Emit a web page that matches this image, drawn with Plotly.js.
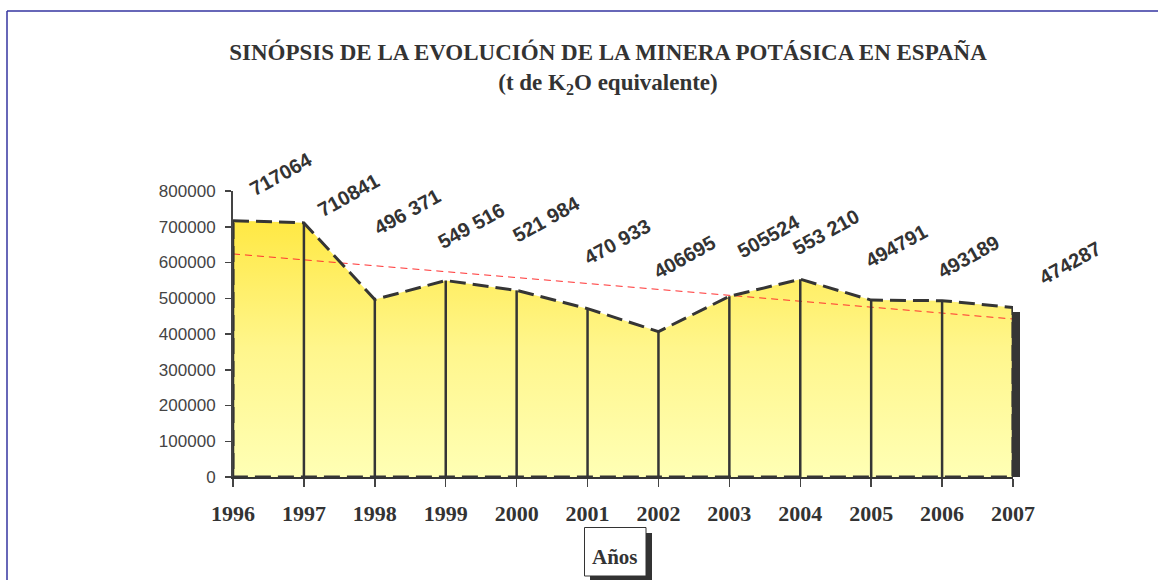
<!DOCTYPE html>
<html>
<head>
<meta charset="utf-8">
<script src="https://cdn.plot.ly/plotly-3.0.1.min.js"></script>
<style>
  html, body { margin: 0; padding: 0; background: #fff; }
  #chart { width: 1158px; height: 580px; }
</style>
</head>
<body>
<div id="chart"></div>
<script>
// ---- data ----
const years = [1996, 1997, 1998, 1999, 2000, 2001, 2002, 2003, 2004, 2005, 2006, 2007];
const values = [717064, 710841, 496371, 549516, 521984, 470933, 406695, 505524, 553210, 494791, 493189, 474287];
const dataLabels = ["717064", "710841", "496 371", "549 516", "521 984", "470 933", "406695", "505524", "553 210", "494791", "493189", "474287"];
const trendYears = [1996, 2007];
const trendValues = [624000, 442000];
const yTickVals = [0, 100000, 200000, 300000, 400000, 500000, 600000, 700000, 800000];
const yTickText = ["0", "100000", "200000", "300000", "400000", "500000", "600000", "700000", "800000"];
const xTickText = ["1996", "1997", "1998", "1999", "2000", "2001", "2002", "2003", "2004", "2005", "2006", "2007"];

// ---- label offsets (pixels, style only) ----
const labelDx = [48, 45, 32, 25, 30, 29, 26, 40, 26, 25, 26, 57];
const labelDy = [47, 28, 88, 55, 71, 67, 75, 60, 47, 54, 44, 44];

// ---- layout geometry ----
const W = 1158, H = 580;
const mL = 233, mR = 145, mT = 191, mB = 103;
const px2x = p => (p - mL) / (W - mL - mR);
const py2y = p => (H - mB - p) / (H - mT - mB);

const n = years.length;
const polyX = years.concat([years[n - 1], years[0], years[0]]);
const polyY = values.concat([0, 0, values[0]]);

const traces = [
  {
    type: 'scatter', mode: 'lines', x: polyX, y: polyY,
    fill: 'toself',
    fillcolor: '#FFF58A',
    fillgradient: {
      type: 'vertical', start: 0, stop: 720000,
      colorscale: [[0, '#FFFFB5'], [0.5, '#FFF68C'], [1, '#FFE843']]
    },
    line: { color: 'rgba(0,0,0,0)', width: 0 },
    hoverinfo: 'skip', showlegend: false
  },
  {
    type: 'scatter', mode: 'lines', x: trendYears, y: trendValues,
    line: { color: '#FF3030', width: 1, dash: '7px,5px' },
    hoverinfo: 'skip', showlegend: false
  },
  {
    type: 'scatter', mode: 'markers', x: years, y: values,
    marker: { size: 1, color: 'rgba(0,0,0,0)' },
    error_y: {
      type: 'data', symmetric: false,
      array: values.map(() => 0), arrayminus: values,
      width: 0, thickness: 2.5, color: '#353535'
    },
    hoverinfo: 'skip', showlegend: false
  },
  {
    type: 'scatter', mode: 'lines', x: polyX, y: polyY,
    line: { color: '#353535', width: 3, dash: '16px,7px' },
    hoverinfo: 'skip', showlegend: false
  }
];

const annotations = years.map((yr, i) => ({
  x: yr, y: values[i], xref: 'x', yref: 'y',
  text: dataLabels[i], showarrow: false,
  xshift: labelDx[i], yshift: labelDy[i],
  textangle: -29,
  font: { family: 'Liberation Sans, Arial, sans-serif', size: 20, color: '#333333', weight: 'bold' }
}));

annotations.push({
  xref: 'paper', yref: 'paper',
  x: px2x(615), y: py2y(557), xanchor: 'center', yanchor: 'middle',
  text: '<b>Años</b>', showarrow: false,
  font: { family: 'Liberation Serif, Times New Roman, serif', size: 21, color: '#333333' }
});

const shapes = [
  // shadow of "Años" box
  { type: 'rect', xref: 'paper', yref: 'paper', layer: 'above',
    x0: px2x(590), x1: px2x(652), y0: py2y(533), y1: py2y(581),
    fillcolor: '#333333', line: { width: 0 } },
  // "Años" box
  { type: 'rect', xref: 'paper', yref: 'paper', layer: 'above',
    x0: px2x(584.5), x1: px2x(646), y0: py2y(527.5), y1: py2y(576),
    fillcolor: '#ffffff', line: { color: '#333333', width: 1 } },
  // dark edge at the right of the area
  { type: 'rect', xref: 'paper', yref: 'y', layer: 'above',
    xsizemode: 'pixel', xanchor: 1, x0: 0, x1: 7,
    y0: 0, y1: values[n - 1] - 13000,
    fillcolor: '#353535', line: { width: 0 } },
  // page border (top and left)
  { type: 'line', xref: 'paper', yref: 'paper',
    x0: px2x(7), x1: px2x(1160), y0: py2y(11), y1: py2y(11),
    line: { color: '#3535A0', width: 1.5 } },
  { type: 'line', xref: 'paper', yref: 'paper',
    x0: px2x(7), x1: px2x(7), y0: py2y(11), y1: py2y(590),
    line: { color: '#3535A0', width: 1.5 } }
];

const layout = {
  width: W, height: H,
  margin: { l: mL, r: mR, t: mT, b: mB, pad: 0 },
  paper_bgcolor: '#ffffff', plot_bgcolor: '#ffffff',
  showlegend: false,
  title: {
    text: 'SINÓPSIS DE LA EVOLUCIÓN DE LA MINERA POTÁSICA EN ESPAÑA<br>(t de K<sub>2</sub>O equivalente)',
    x: 608 / W, xref: 'container', xanchor: 'center',
    y: 1 - 60 / H, yref: 'container', yanchor: 'top',
    font: { family: 'Liberation Serif, Times New Roman, serif', size: 23, color: '#333333', weight: 'bold' }
  },
  xaxis: {
    range: [1996, 2007],
    tickvals: years, ticktext: xTickText,
    ticks: 'outside', ticklen: 8, tickwidth: 1.5, tickcolor: '#444444',
    showline: true, linecolor: '#353535', linewidth: 2,
    showgrid: false, zeroline: false,
    ticklabelstandoff: 8,
    tickfont: { family: 'Liberation Serif, Times New Roman, serif', size: 22, color: '#333333', weight: 'bold' }
  },
  yaxis: {
    range: [0, 800000],
    tickvals: yTickVals, ticktext: yTickText,
    ticks: 'outside', ticklen: 6, tickwidth: 1.5, tickcolor: '#444444',
    showline: true, linecolor: '#444444', linewidth: 2,
    showgrid: false, zeroline: false,
    ticklabelstandoff: 6,
    tickfont: { family: 'Liberation Sans, Arial, sans-serif', size: 17, color: '#444444' }
  },
  annotations: annotations,
  shapes: shapes
};

Plotly.newPlot('chart', traces, layout, { displayModeBar: false, staticPlot: true });
</script>
</body>
</html>
